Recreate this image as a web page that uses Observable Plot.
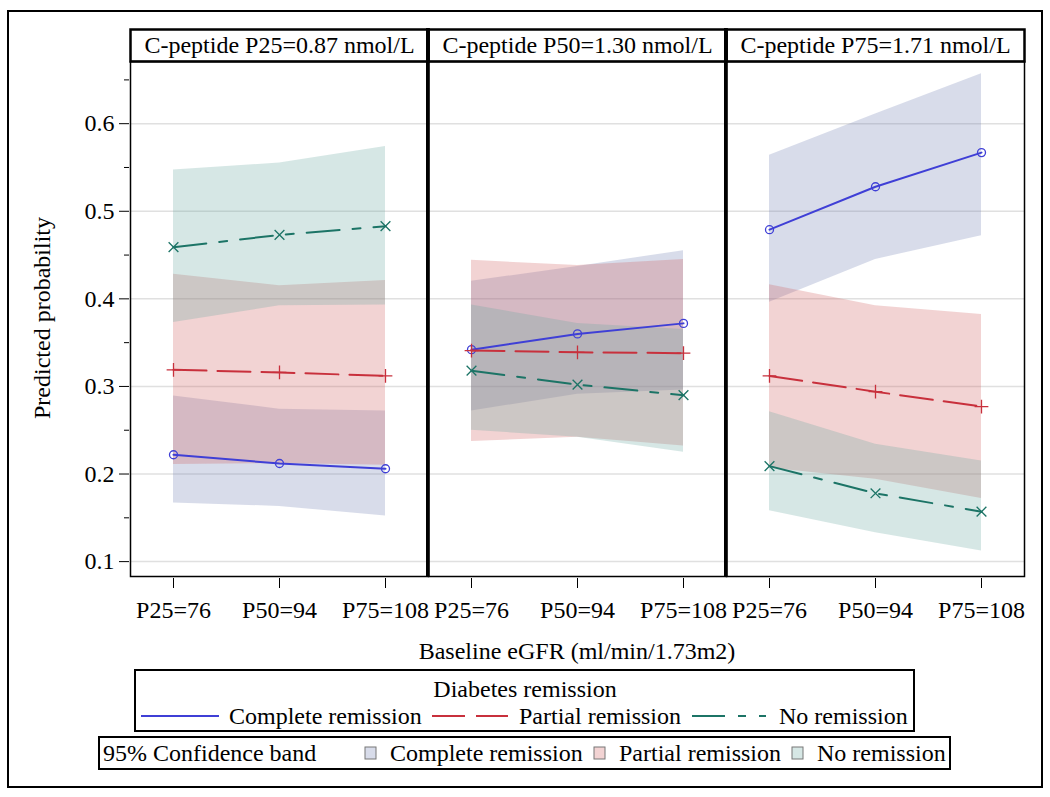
<!DOCTYPE html>
<html><head><meta charset="utf-8">
<script src="https://cdn.jsdelivr.net/npm/d3@7"></script>
<script src="https://cdn.jsdelivr.net/npm/@observablehq/plot@0.6"></script>
<style>
body{margin:0;background:#fff;font-family:"Liberation Serif","Times New Roman",serif;}
#wrap{position:relative;width:1050px;height:797px;overflow:hidden;background:#fff;}
.abs{position:absolute;white-space:nowrap;font-size:24px;line-height:24px;color:#000;font-family:"Liberation Serif",serif;}
.box{position:absolute;box-sizing:border-box;border:2px solid #000;}
svg text{font-family:"Liberation Serif",serif;}
</style></head><body><div id="wrap"></div>
<script>
// ---------- data ----------
const panels = ["C-peptide P25=0.87 nmol/L", "C-peptide P50=1.30 nmol/L", "C-peptide P75=1.71 nmol/L"];
const egfrLevels = ["P25=76", "P50=94", "P75=108"];
const groups = ["Complete remission", "Partial remission", "No remission"];
const yTicks = [0.1, 0.2, 0.3, 0.4, 0.5, 0.6];
const yMinorTicks = [0.15, 0.25, 0.35, 0.45, 0.55, 0.65];

// predicted probabilities: one row per C-peptide panel, values per eGFR level
const completeEst = [[0.222, 0.212, 0.206], [0.342, 0.360, 0.372], [0.479, 0.528, 0.567]];
const completeLo  = [[0.167, 0.163, 0.152], [0.272, 0.291, 0.296], [0.396, 0.445, 0.472]];
const completeHi  = [[0.289, 0.274, 0.272], [0.420, 0.437, 0.455], [0.564, 0.611, 0.657]];
const partialEst  = [[0.319, 0.316, 0.312], [0.341, 0.339, 0.338], [0.312, 0.294, 0.277]];
const partialLo   = [[0.211, 0.212, 0.210], [0.237, 0.242, 0.232], [0.207, 0.194, 0.172]];
const partialHi   = [[0.428, 0.415, 0.421], [0.444, 0.438, 0.445], [0.416, 0.392, 0.382]];
const noneEst     = [[0.459, 0.473, 0.483], [0.318, 0.302, 0.290], [0.209, 0.178, 0.157]];
const noneLo      = [[0.373, 0.392, 0.393], [0.250, 0.242, 0.225], [0.158, 0.133, 0.112]];
const noneHi      = [[0.547, 0.555, 0.574], [0.393, 0.372, 0.365], [0.271, 0.234, 0.215]];

// ---------- styles ----------
const lineColors = ["#3f3fd6", "#c8303c", "#1c7466"];
const bandColors = ["#6F7EB3", "#D05B5B", "#66A5A0"];
const bandSwatch = ["#d8dcea", "#f2d3d3", "#d6e7e5"];
const dashes = [null, "33 11", "33 13 8 13"];
const symbols = ["circle", "plus", "times"];

const EST = [completeEst, partialEst, noneEst];
const LO = [completeLo, partialLo, noneLo];
const HI = [completeHi, partialHi, noneHi];
const rows = [];
panels.forEach((p, pi) => groups.forEach((g, gi) => egfrLevels.forEach((lv, li) => {
  rows.push({panel: p, level: lv, group: g, est: EST[gi][pi][li], lo: LO[gi][pi][li], hi: HI[gi][pi][li]});
})));

const W = 1050, H = 670, mL = 129, mR = 26, mT = 61, mB = 94;
const innerH = H - mT - mB;
const fw = (W - mL - mR) / panels.length;

const marks = [Plot.gridY(yTicks, {stroke: "#e0e0e0", strokeOpacity: 1, strokeWidth: 1.5})];
groups.forEach((g, gi) => {
  marks.push(Plot.areaY(rows.filter(d => d.group === g), {fx: "panel", x: "level", y1: "lo", y2: "hi", fill: bandColors[gi], fillOpacity: 0.27}));
});
groups.forEach((g, gi) => {
  const sub = rows.filter(d => d.group === g);
  marks.push(Plot.line(sub, {fx: "panel", x: "level", y: "est", stroke: lineColors[gi], strokeWidth: 2, strokeDasharray: dashes[gi] || undefined}));
  marks.push(Plot.dot(sub, {fx: "panel", x: "level", y: "est", symbol: symbols[gi], stroke: lineColors[gi], fill: "none", r: gi === 0 ? 4 : 4.5, strokeWidth: 1.3}));
});
marks.push(
  Plot.frame({stroke: "#000", strokeWidth: 1.5}),
  Plot.frame({stroke: "#000", strokeWidth: 2.5, insetTop: -32, insetBottom: innerH}),
  Plot.text(panels, {fx: d => d, text: d => d, frameAnchor: "top", lineAnchor: "middle", dy: -16, fill: "#000"}),
  Plot.rect(panels.slice(1), {fx: d => d, fill: "#000", insetLeft: -2, insetRight: fw - 2, insetTop: -33}),
  Plot.axisY({ticks: yTicks, tickSize: 10, tickPadding: 5, dx: -1, label: null, tickFormat: d => d.toFixed(1)}),
  Plot.axisY({ticks: yMinorTicks, tickSize: 5, dx: -1, label: null, tickFormat: () => ""}),
  Plot.axisX({tickSize: 10, tickPadding: 12, dy: 2, label: null})
);

const chart = Plot.plot({
  width: W, height: H,
  marginLeft: mL, marginRight: mR, marginTop: mT, marginBottom: mB,
  style: {fontFamily: "Liberation Serif, serif", fontSize: "24px", background: "transparent", color: "#000"},
  fx: {domain: panels, padding: 0, axis: null},
  x: {type: "point", domain: egfrLevels, padding: 0.4},
  y: {domain: [0.083, 0.671]},
  marks
});

const wrap = document.getElementById("wrap");
chart.style.position = "absolute"; chart.style.left = "0px"; chart.style.top = "0px";
wrap.appendChild(chart);

function addText(txt, x, y, center) {
  const el = document.createElement("div");
  el.className = "abs"; el.textContent = txt;
  el.style.left = x + "px"; el.style.top = y + "px";
  el.style.transform = center ? "translate(-50%,-50%)" : "translate(0,-50%)";
  wrap.appendChild(el);
  return el;
}
function addBox(x, y, w, h) {
  const el = document.createElement("div");
  el.className = "box";
  el.style.left = x + "px"; el.style.top = y + "px"; el.style.width = w + "px"; el.style.height = h + "px";
  wrap.appendChild(el);
  return el;
}

// axis titles
const yl = addText("Predicted probability", 42, 318, true);
yl.style.transform = "translate(-50%,-50%) rotate(-90deg)";
addText("Baseline eGFR (ml/min/1.73m2)", 577, 651, true);

// legend 1
addBox(134, 669, 781, 63);
addText("Diabetes remission", 525, 689, true);
const l1x = [[141, 219, 229], [432, 508, 519], [692, 766, 779]];
// legend 2
addBox(98, 736, 853, 34);
addText("95% Confidence band", 103, 753, false);
const l2x = [[365, 390], [594, 619], [792, 817]];

const ns = "http://www.w3.org/2000/svg";
const ov = document.createElementNS(ns, "svg");
ov.setAttribute("width", W); ov.setAttribute("height", 797);
ov.style.position = "absolute"; ov.style.left = "0"; ov.style.top = "0";
groups.forEach((g, gi) => {
  const ln = document.createElementNS(ns, "line");
  ln.setAttribute("x1", l1x[gi][0]); ln.setAttribute("x2", l1x[gi][1]);
  ln.setAttribute("y1", 716); ln.setAttribute("y2", 716);
  ln.setAttribute("stroke", lineColors[gi]); ln.setAttribute("stroke-width", 2);
  if (dashes[gi]) ln.setAttribute("stroke-dasharray", dashes[gi]);
  ov.appendChild(ln);
  addText(g, l1x[gi][2], 716, false);
  const sw = document.createElementNS(ns, "rect");
  sw.setAttribute("x", l2x[gi][0]); sw.setAttribute("y", 747);
  sw.setAttribute("width", 11); sw.setAttribute("height", 12);
  sw.setAttribute("fill", bandSwatch[gi]); sw.setAttribute("stroke", "#777"); sw.setAttribute("stroke-width", 1);
  ov.appendChild(sw);
  addText(g, l2x[gi][1], 753, false);
});
wrap.appendChild(ov);

// outer border
addBox(7, 10, 1036, 778);
</script></body></html>
